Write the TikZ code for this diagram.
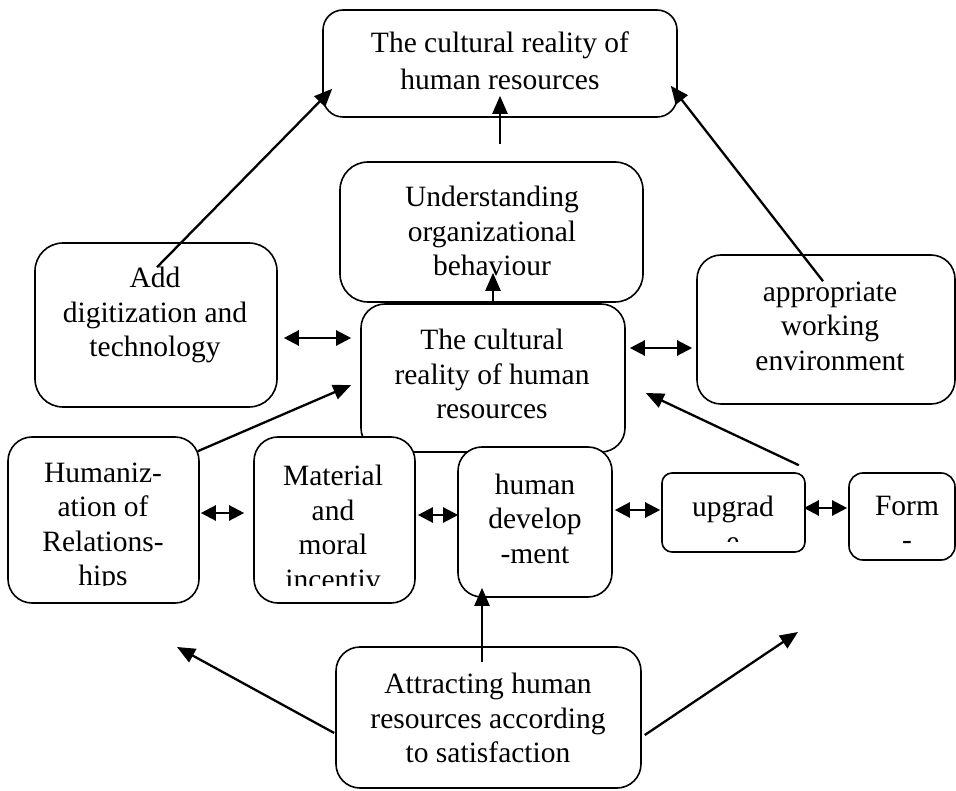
\documentclass[tikz,border=0pt]{standalone}
\usepackage{fontspec}
\setmainfont{Liberation Serif}
\usetikzlibrary{arrows.meta,calc}
\begin{document}
\begin{tikzpicture}[x=1pt,y=-1pt,
  box/.style={draw, line width=1.6pt, rounded corners=24pt, fill=white, inner sep=0pt},
  lbl/.style={align=center, inner sep=0pt, font=\fontsize{29.5}{34.5}\selectfont},
  arr/.style={line width=2.3pt, -{Triangle[length=18pt,width=15pt]}},
  dbl/.style={line width=2.3pt, {Triangle[length=15pt,width=15pt]}-{Triangle[length=15pt,width=15pt]}},
]
\useasboundingbox (0,0) rectangle (956,791);

% ---- boxes ----
\node[box, rounded corners=20pt, minimum width=354pt, minimum height=107pt] (top) at (500,63.5) {};
\node[box, rounded corners=28pt, minimum width=303pt, minimum height=140pt] (und) at (491.5,232) {};
\node[box, rounded corners=28pt, minimum width=242pt, minimum height=164pt] (add) at (156,325) {};
\node[box, minimum width=258pt, minimum height=149pt] (env) at (826,329.5) {};
\node[box, minimum width=264pt, minimum height=148pt] (cen) at (493,378) {};
\node[box, minimum width=191pt, minimum height=166pt] (hum) at (103.5,520) {};
\node[box, minimum width=161pt, minimum height=166pt] (mat) at (334.5,520) {};
\node[box, minimum width=154pt, minimum height=150pt] (dev) at (535,522) {};
\node[box, rounded corners=10pt, minimum width=143pt, minimum height=79pt] (upg) at (733.5,512.5) {};
\node[box, rounded corners=14pt, minimum width=106pt, minimum height=87pt] (form) at (902,516.5) {};
\node[box, minimum width=305pt, minimum height=141pt] (att) at (488.5,717.5) {};

% ---- texts ----
\node[lbl] (top-t) at (500,61) {The cultural reality of\\[2.5pt]human resources};
\node[lbl] (und-t) at (492,231) {Understanding\\organizational\\behaviour};
\node[lbl] (add-t) at (155,315) {Add\\digitization and\\technology};
\node[lbl] (env-t) at (830,326) {appropriate\\working\\environment};
\node[lbl] (cen-t) at (492,374) {The cultural\\reality of human\\resources};
\node[lbl] (dev-t) at (535,518.5) {human\\develop\\-ment};
\node[lbl] (att-t) at (488,718) {Attracting human\\resources according\\to satisfaction};
\begin{scope}
  \clip (0,430) rectangle (430,585);
  \node[lbl] (hum-t) at (103,527.5) {Humaniz-\\ation of\\Relations-\\hips};
  \node[lbl] (mat-t) at (333,527.5) {Material\\and\\moral\\incentiv};
\end{scope}
\begin{scope}
  \clip (660,470) rectangle (806,541);
  \node[lbl] (upg-t) at (733,524) {upgrad\\e};
\end{scope}
\begin{scope}
  \clip (850,470) rectangle (956,552);
  \node[lbl] (form-t) at (907,523) {Form\\-};
\end{scope}

% ---- connectors ----
\coordinate (lfree) at (177,647);
\coordinate (rfree) at (798,632);

\draw[arr] ($(und.north)+(8.5,-17)$) -- ($(top.south)+(0,-22)$);
\draw[arr] (cen.north) -- ($(und.south)+(1.5,-30)$);
\draw[arr] ($(add.north)+(1,25)$) -- ($(top.south west)+(10,-29)$);
\draw[arr] ($(env.north)+(-3,27)$) -- ($(top.south east)+(-7,-32)$);

\draw[dbl] ($(add.east)+(6,13)$) -- ($(cen.west)+(-9,-40)$);
\draw[dbl] ($(cen.east)+(4,-30)$) -- ($(env.west)+(-4,18.5)$);

\draw[arr] ($(hum.north east)+(-2,15)$) -- ($(cen.west)+(-9,7)$);
\draw[arr] ($(upg.north east)+(-7,-7)$) -- ($(cen.east)+(20,15)$);

\draw[dbl] ($(hum.east)+(1,-7)$) -- ($(mat.west)+(-9,-7)$);
\draw[dbl] ($(mat.east)+(2,-5)$) -- ($(dev.west)+(1,-7)$);
\draw[dbl] ($(dev.east)+(2,-12)$) -- ($(upg.west)+(-1,-2.5)$);
\draw[dbl] ($(upg.east)+(-2,-4.5)$) -- ($(form.west)+(-1,-8.5)$);

\draw[arr] ($(att.north)+(-6.5,16)$) -- ($(dev.south)+(-53,-10)$);
\draw[arr] ($(att.west)+(-1,15.5)$) -- (lfree);
\draw[arr] ($(att.east)+(3,17.5)$) -- (rfree);
\end{tikzpicture}
\end{document}
